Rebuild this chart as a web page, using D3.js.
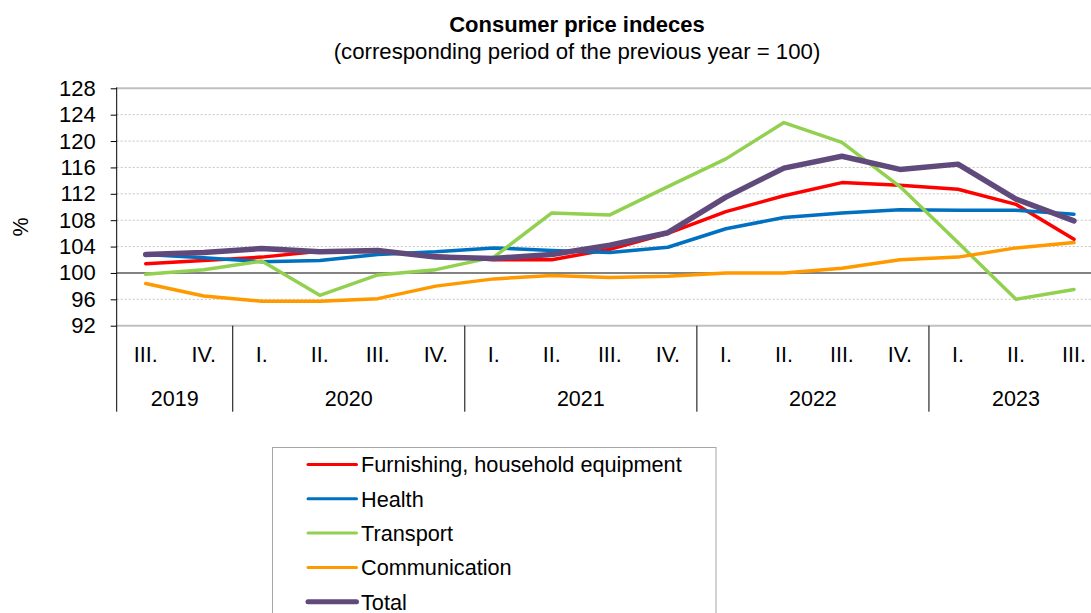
<!DOCTYPE html>
<html>
<head>
<meta charset="utf-8">
<script src="https://cdn.jsdelivr.net/npm/d3@7"></script>
<style>
  body { margin: 0; background: #fff; }
  svg { display: block; font-family: 'Liberation Sans', Arial, sans-serif; }
</style>
</head>
<body>
<div id="chart"></div>
<script>
// data
const years = ['2019', '2020', '2021', '2022', '2023']
const quartersPerYear = [2, 4, 4, 4, 3]
const quarters = ['III.', 'IV.', 'I.', 'II.', 'III.', 'IV.', 'I.', 'II.', 'III.', 'IV.', 'I.', 'II.', 'III.', 'IV.', 'I.', 'II.', 'III.']
const yTicks = [92, 96, 100, 104, 108, 112, 116, 120, 124, 128]

const furnishing = [101.4, 101.9, 102.4, 103.3, 103.2, 102.6, 102.0, 102.0, 103.6, 106.0, 109.3, 111.7, 113.7, 113.3, 112.7, 110.4, 105.1]
const health = [102.8, 102.3, 101.7, 101.9, 102.8, 103.2, 103.8, 103.4, 103.1, 103.9, 106.7, 108.4, 109.1, 109.6, 109.5, 109.5, 108.9]
const transport = [99.8, 100.5, 101.8, 96.6, 99.7, 100.5, 102.4, 109.1, 108.8, 113.1, 117.3, 122.8, 119.8, 113.1, 104.6, 96.0, 97.5]
const communication = [98.4, 96.5, 95.7, 95.7, 96.1, 98.0, 99.1, 99.6, 99.3, 99.5, 100.0, 100.0, 100.7, 102.0, 102.4, 103.8, 104.6]
const total = [102.8, 103.1, 103.7, 103.2, 103.4, 102.4, 102.2, 102.8, 104.2, 106.1, 111.5, 115.9, 117.7, 115.7, 116.5, 111.2, 107.9]

const series = [
  { name: 'Furnishing, household equipment', values: furnishing, color: '#ff0000', width: 3.5 },
  { name: 'Health', values: health, color: '#0070c0', width: 3.5 },
  { name: 'Transport', values: transport, color: '#92d050', width: 3.5 },
  { name: 'Communication', values: communication, color: '#ff9900', width: 3.5 },
  { name: 'Total', values: total, color: '#604a7b', width: 5.5 }
]

// sizes
const width = 1091
const height = 613
const plot = { left: 116.7, right: 1103, top: 88.3, bottom: 325.7 }
const fontSize = 21.5

const svg = d3.select('#chart')
  .append('svg')
  .attr('width', width)
  .attr('height', height)

// scales
const x = d3.scaleBand()
  .domain(d3.range(quarters.length))
  .range([plot.left, plot.right])
  .paddingInner(0)
  .paddingOuter(0)
const cx = i => x(i) + x.bandwidth() / 2

const y = d3.scaleLinear()
  .domain([92, 128])
  .range([plot.bottom, plot.top])

// title
svg.append('text')
  .attr('x', 577)
  .attr('y', 32)
  .attr('text-anchor', 'middle')
  .style('font-size', '22px')
  .style('font-weight', 'bold')
  .text('Consumer price indeces')

svg.append('text')
  .attr('x', 577)
  .attr('y', 59)
  .attr('text-anchor', 'middle')
  .style('font-size', '22.2px')
  .text('(corresponding period of the previous year = 100)')

// gridlines
svg.append('g')
  .selectAll('line')
  .data(yTicks.filter(v => v !== 92 && v !== 100 && v !== 128))
  .enter().append('line')
  .attr('x1', plot.left)
  .attr('x2', plot.right)
  .attr('y1', d => y(d))
  .attr('y2', d => y(d))
  .style('stroke', '#c4c4c4')
  .style('stroke-width', 1)
  .style('stroke-dasharray', '2,2')

// plot border top / bottom
svg.append('g')
  .selectAll('line')
  .data([92, 128])
  .enter().append('line')
  .attr('x1', plot.left)
  .attr('x2', plot.right)
  .attr('y1', d => y(d))
  .attr('y2', d => y(d))
  .style('stroke', '#c0c0c0')
  .style('stroke-width', 2)

// base line at 100
svg.append('line')
  .attr('x1', plot.left)
  .attr('x2', plot.right)
  .attr('y1', y(100))
  .attr('y2', y(100))
  .style('stroke', '#595959')
  .style('stroke-width', 1.5)

// y axis
const yAxis = d3.axisLeft(y)
  .tickValues(yTicks)
  .tickSize(6)
  .tickPadding(15)
  .tickFormat(d3.format('d'))

const yg = svg.append('g')
  .attr('transform', `translate(${plot.left},0)`)
  .call(yAxis)
yg.select('.domain').remove()
yg.selectAll('.tick line').style('stroke', '#000')
yg.selectAll('.tick text')
  .style('font-size', '22px')
  .style('font-family', "'Liberation Sans', Arial, sans-serif")
  .style('fill', '#000')

svg.append('line')
  .attr('x1', plot.left)
  .attr('x2', plot.left)
  .attr('y1', plot.top - 1)
  .attr('y2', 411.7)
  .style('stroke', '#000')
  .style('stroke-width', 1)

svg.append('text')
  .attr('transform', 'translate(28,227) rotate(-90)')
  .attr('text-anchor', 'middle')
  .style('font-size', fontSize + 'px')
  .text('%')

// category axis: quarters
svg.append('g')
  .selectAll('text')
  .data(quarters)
  .enter().append('text')
  .attr('x', (d, i) => cx(i))
  .attr('y', 362)
  .attr('text-anchor', 'middle')
  .style('font-size', fontSize + 'px')
  .text(d => d)

// category axis: years and separators
const yearStart = quartersPerYear.map((n, i) => d3.sum(quartersPerYear.slice(0, i)))
const yearEdge = i => i < quarters.length ? x(i) : plot.right

svg.append('g')
  .selectAll('line')
  .data(yearStart.slice(1).concat([quarters.length]))
  .enter().append('line')
  .attr('x1', d => yearEdge(d))
  .attr('x2', d => yearEdge(d))
  .attr('y1', plot.bottom)
  .attr('y2', 411.7)
  .style('stroke', '#000')
  .style('stroke-width', 1)

svg.append('g')
  .selectAll('text')
  .data(years)
  .enter().append('text')
  .attr('x', (d, i) => (yearEdge(yearStart[i]) + yearEdge(yearStart[i] + quartersPerYear[i])) / 2)
  .attr('y', 406)
  .attr('text-anchor', 'middle')
  .style('font-size', fontSize + 'px')
  .text(d => d)

// lines
const line = d3.line()
  .x((d, i) => cx(i))
  .y(d => y(d))

svg.append('g')
  .selectAll('path')
  .data(series)
  .enter().append('path')
  .attr('d', d => line(d.values))
  .style('fill', 'none')
  .style('stroke', d => d.color)
  .style('stroke-width', d => d.width)
  .style('stroke-linejoin', 'round')
  .style('stroke-linecap', 'round')

// legend
const legend = svg.append('g')
  .attr('transform', 'translate(272.5,447.5)')

legend.append('rect')
  .attr('width', 443.5)
  .attr('height', 200)
  .style('fill', '#fff')
  .style('stroke', '#a6a6a6')
  .style('stroke-width', 1)

const item = legend.selectAll('g.item')
  .data(series)
  .enter().append('g')
  .attr('class', 'item')
  .attr('transform', (d, i) => `translate(0,${17 + i * 34.3})`)

item.append('line')
  .attr('x1', 35.5)
  .attr('x2', 84)
  .style('stroke', d => d.color)
  .style('stroke-width', d => d.width - 0.5)
  .style('stroke-linecap', 'round')

item.append('text')
  .attr('x', 88.5)
  .attr('dy', '0.36em')
  .style('font-size', '21.7px')
  .text(d => d.name)
</script>
</body>
</html>
